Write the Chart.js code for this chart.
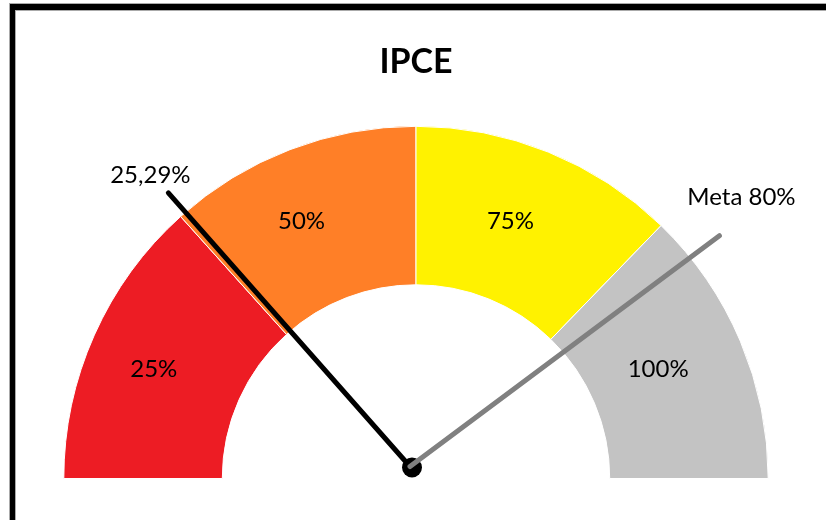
<!DOCTYPE html>
<html>
<head>
<meta charset="utf-8">
<script src="https://cdn.jsdelivr.net/npm/chart.js@4"></script>
<style>
  body { margin: 0; background: #fff; }
  #wrap { position: relative; width: 826px; height: 520px; overflow: hidden; }
  #frame {
    position: absolute; left: 10px; top: 4px; right: -20px; bottom: -20px;
    border-top: 6px solid #000; border-left: 5px solid #000;
    box-shadow: -1px -1px 0 #aaa, inset 1px 1px 0 #aaa;
    pointer-events: none;
  }
</style>
</head>
<body>
<div id="wrap">
  <canvas id="gauge" width="826" height="520"></canvas>
  <div id="frame"></div>
</div>
<script>
// dados do velocímetro
var faixas = ["25%", "50%", "75%", "100%"];
var limitesFaixas = [25, 50, 75, 100];
// tamanho de cada faixa como aparece no desenho
var valoresFaixas = [26.7, 23.3, 24.5, 25.5];
var coresFaixas = ['#ED1C24', '#FF7F27', '#FFF200', '#C3C3C3'];

var valorAtual = 25.29;
var rotuloAtual = "25,29%";
var valorMeta = 80;
var rotuloMeta = "Meta 80%";

var fonte = "Lato, 'Open Sans', sans-serif";

// escreve o rótulo de cada faixa na posição nominal da escala 0-100
var rotulosFaixas = {
    id: 'rotulosFaixas',
    afterDatasetsDraw: function (chart) {
        var ctx = chart.ctx;
        var arcs = chart.getDatasetMeta(0).data;
        var ini = arcs[0].startAngle;
        var fim = arcs[arcs.length - 1].endAngle;
        var r = (arcs[0].innerRadius + arcs[0].outerRadius) / 2;
        var cx = arcs[0].x - 10;
        var cy = arcs[0].y - 5;
        ctx.save();
        ctx.font = "24px " + fonte;
        ctx.fillStyle = '#000';
        ctx.textAlign = 'center';
        ctx.textBaseline = 'middle';
        faixas.forEach(function (txt, i) {
            var ang = ini + (fim - ini) * (limitesFaixas[i] - 12.5) / 100;
            ctx.fillText(txt, cx + Math.cos(ang) * r, cy + Math.sin(ang) * r);
        });
        ctx.restore();
    }
};

// ponteiros: valor atual (preto) e meta (cinza)
var ponteiros = {
    id: 'ponteiros',
    afterDraw: function (chart) {
        var ctx = chart.ctx;
        var arcs = chart.getDatasetMeta(0).data;
        var cx = arcs[0].x - 6;
        var cy = arcs[0].y - 12;

        // acha a faixa do valor e interpola dentro do arco dela
        function angulo(valor) {
            var ant = 0;
            for (var i = 0; i < limitesFaixas.length; i++) {
                if (valor <= limitesFaixas[i] || i == limitesFaixas.length - 1) {
                    var f = (valor - ant) / (limitesFaixas[i] - ant);
                    return arcs[i].startAngle + (arcs[i].endAngle - arcs[i].startAngle) * f;
                }
                ant = limitesFaixas[i];
            }
        }

        function ponta(valor, comp) {
            var ang = angulo(valor);
            return { x: cx + Math.cos(ang) * comp, y: cy + Math.sin(ang) * comp };
        }

        function linha(p, cor) {
            ctx.beginPath();
            ctx.moveTo(cx, cy);
            ctx.lineTo(p.x, p.y);
            ctx.strokeStyle = cor;
            ctx.lineWidth = 5;
            ctx.lineCap = 'round';
            ctx.stroke();
        }

        ctx.save();
        var pAtual = ponta(valorAtual, 365);
        linha(pAtual, '#000');

        ctx.beginPath();
        ctx.arc(cx + 2, cy + 1, 10, 0, Math.PI * 2);
        ctx.fillStyle = '#000';
        ctx.fill();

        var pMeta = ponta(valorMeta, 386);
        linha(pMeta, '#808080');

        ctx.font = "24px " + fonte;
        ctx.fillStyle = '#000';
        ctx.textAlign = 'center';
        ctx.textBaseline = 'middle';
        ctx.fillText(rotuloAtual, pAtual.x - 18, pAtual.y - 18);
        ctx.fillText(rotuloMeta, pMeta.x + 22, pMeta.y - 38);
        ctx.restore();
    }
};

var ctx = document.getElementById("gauge");
var grafico = new Chart(ctx, {
    type: 'doughnut',
    data: {
        labels: faixas,
        datasets: [{
            data: valoresFaixas,
            backgroundColor: coresFaixas,
            borderColor: '#fff',
            borderWidth: 1
        }]
    },
    options: {
        responsive: false,
        animation: false,
        rotation: -90,
        circumference: 180,
        cutout: '55%',
        layout: {
            padding: { left: 63, right: 57, top: 0, bottom: 41 }
        },
        plugins: {
            legend: { display: false },
            tooltip: { enabled: false },
            title: {
                display: true,
                text: "IPCE",
                color: '#000',
                font: { family: fonte, size: 34, weight: 'bold', lineHeight: 1.2 },
                padding: { top: 42, bottom: 43 }
            }
        }
    },
    plugins: [rotulosFaixas, ponteiros]
});
</script>
</body>
</html>
